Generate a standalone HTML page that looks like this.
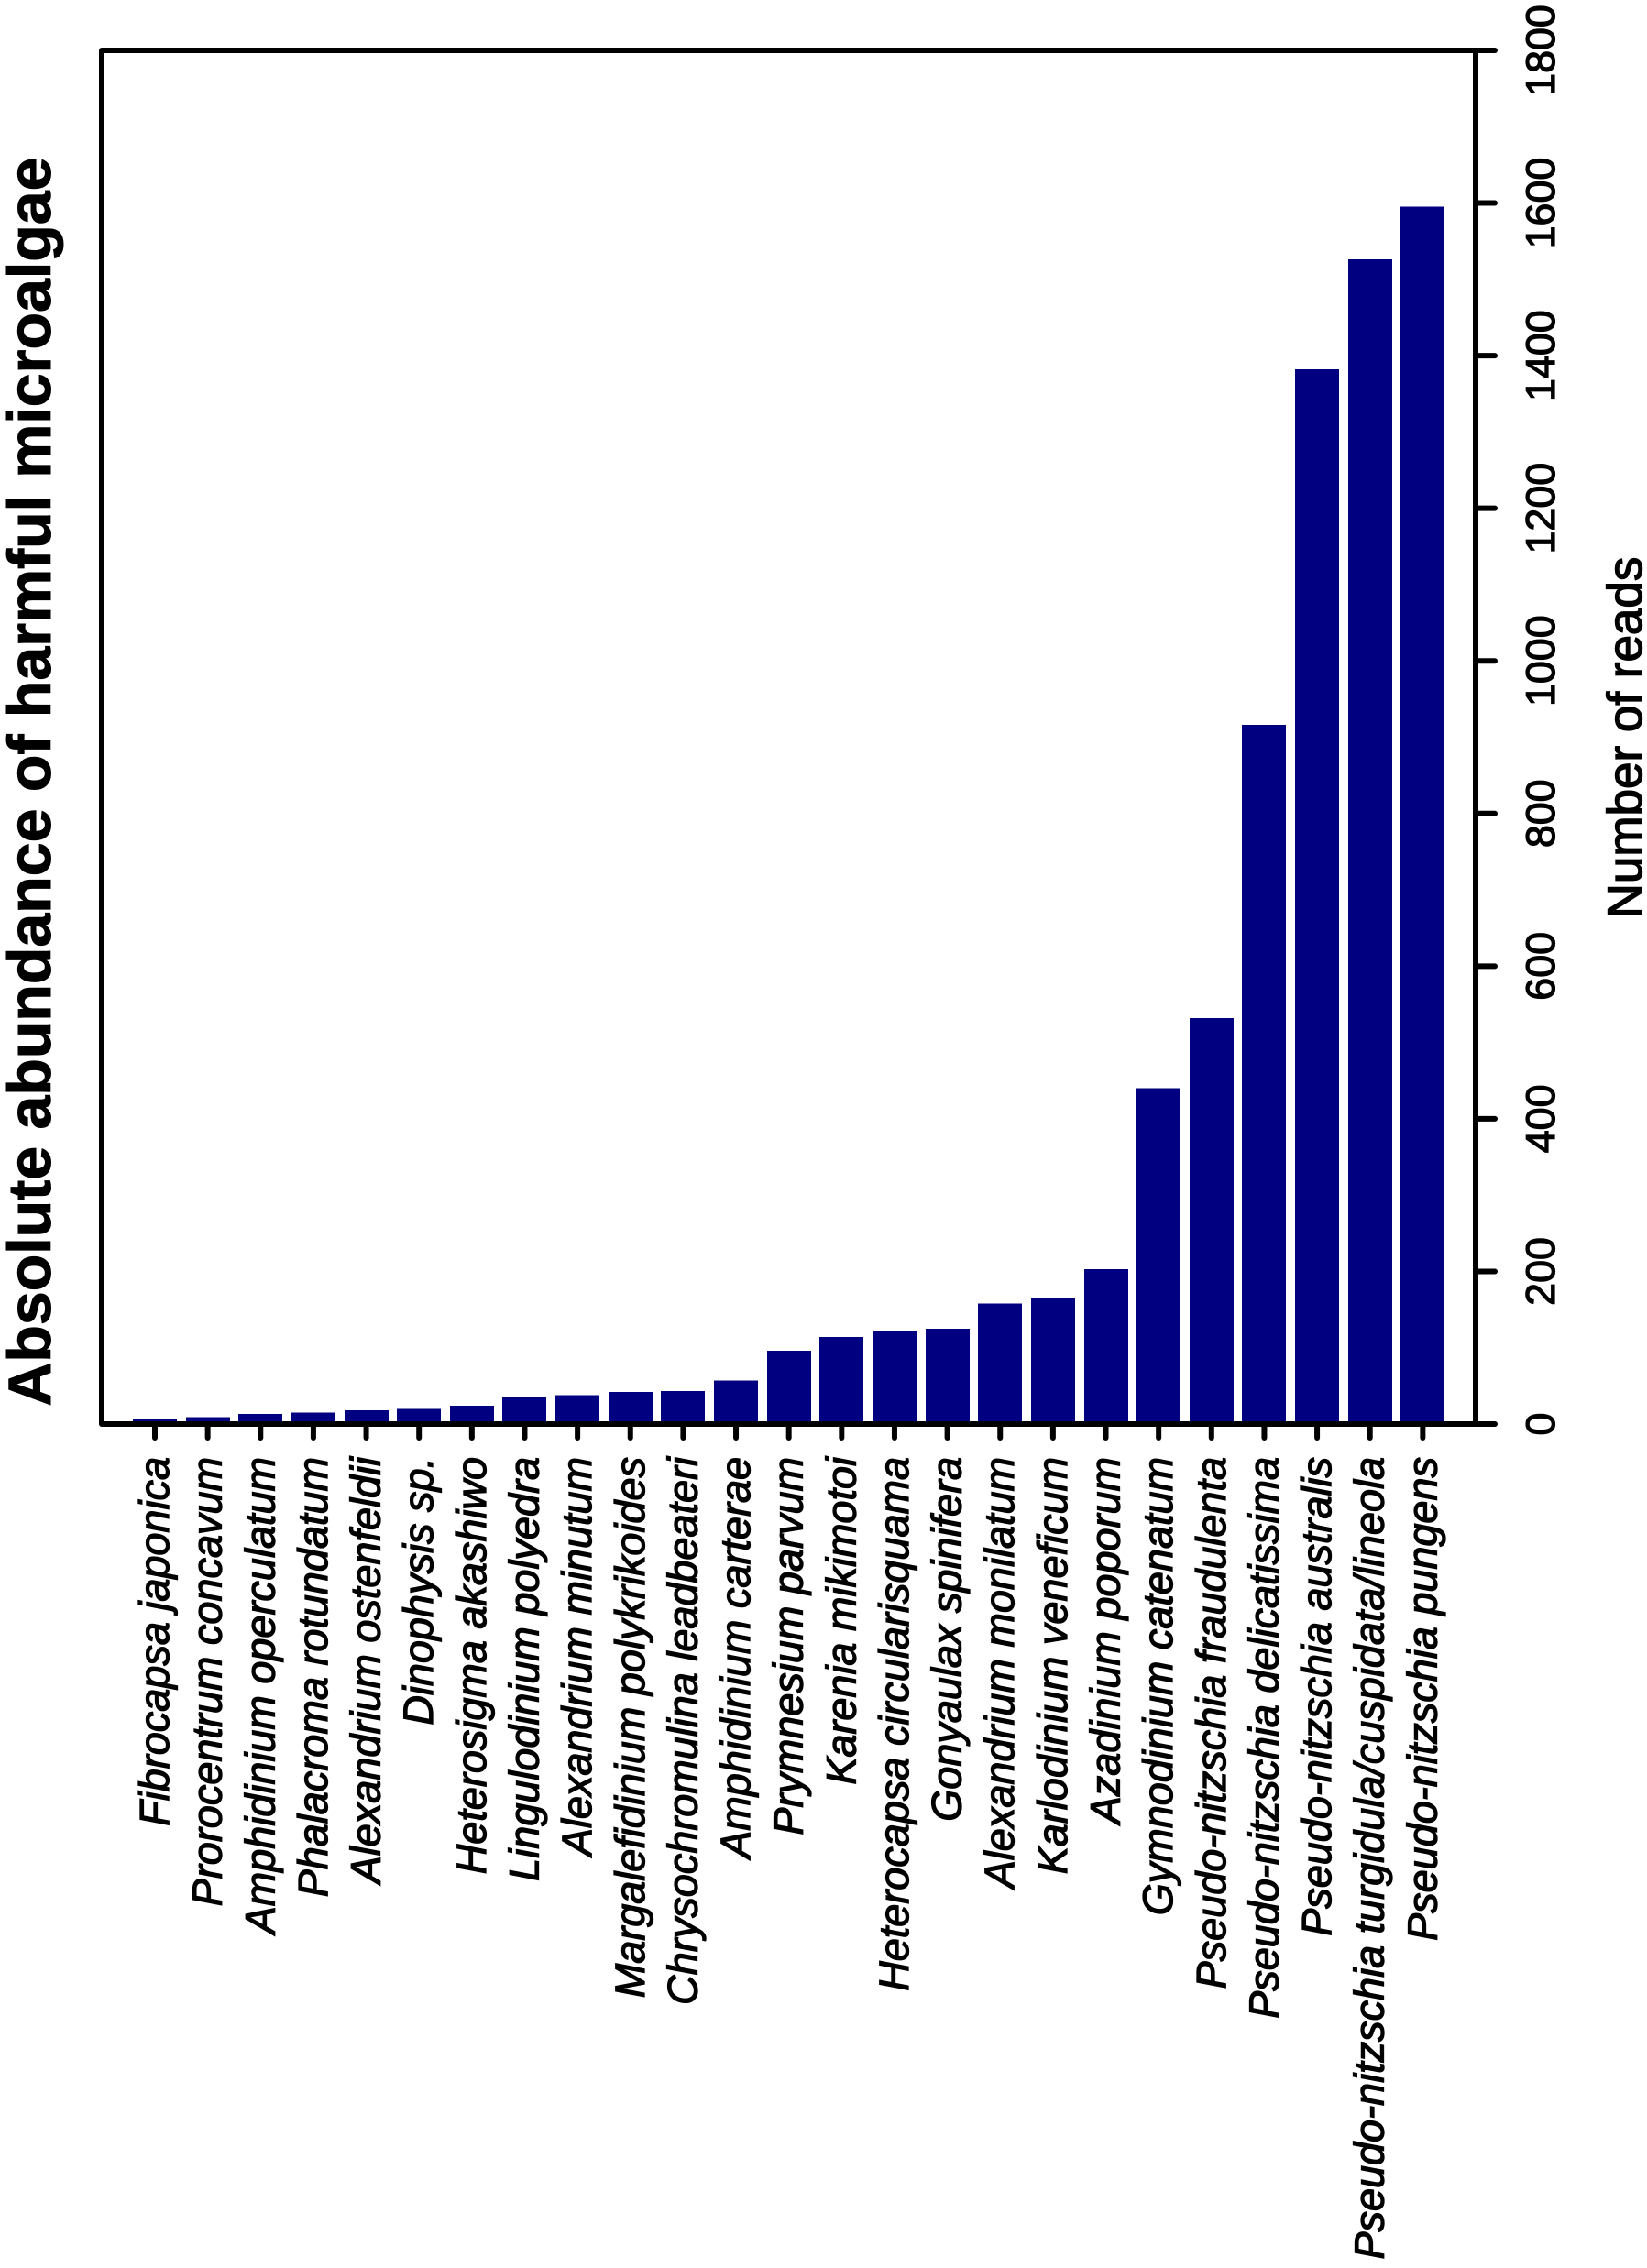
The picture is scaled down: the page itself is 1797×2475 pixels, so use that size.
<!DOCTYPE html>
<html lang="en">
<head>
<meta charset="utf-8">
<title>Absolute abundance of harmful microalgae</title>
<style>
html,body{margin:0;padding:0;background:#fff;}
svg{display:block;}
text{font-family:"Liberation Sans",Arial,sans-serif;fill:#000;}
.cat{font-style:italic;font-size:45px;stroke:#000;stroke-width:1.3px;}
.tick{font-size:44.8px;stroke:#000;stroke-width:1.2px;}
.axis-line{stroke:#000;stroke-width:6;fill:none;stroke-linecap:round;stroke-linejoin:round;}
</style>
</head>
<body>
<svg id="chart" xmlns="http://www.w3.org/2000/svg" width="1797" height="2475" viewBox="0 0 1797 2475">
  <rect x="0" y="0" width="1797" height="2475" fill="#fff"/>
  <g id="bars"></g>
  <path class="axis-line" d="M1610 55 H111 V1554 H1610 V55"/>
  <g id="x-axis"></g>
  <g id="y-axis"></g>
  <text transform="translate(55 853) rotate(-90)" text-anchor="middle" font-size="66.3" font-weight="bold" stroke="#000" stroke-width="1">Absolute abundance of harmful microalgae</text>
  <text transform="translate(1791 805) rotate(-90)" text-anchor="middle" font-size="53" stroke="#000" stroke-width="1.4">Number of reads</text>
</svg>
<script>
const categories = [
  "Fibrocapsa japonica","Prorocentrum concavum","Amphidinium operculatum","Phalacroma rotundatum",
  "Alexandrium ostenfeldii","Dinophysis sp.","Heterosigma akashiwo","Lingulodinium polyedra",
  "Alexandrium minutum","Margalefidinium polykrikoides","Chrysochromulina leadbeateri","Amphidinium carterae",
  "Prymnesium parvum","Karenia mikimotoi","Heterocapsa circularisquama","Gonyaulax spinifera",
  "Alexandrium monilatum","Karlodinium veneficum","Azadinium poporum","Gymnodinium catenatum",
  "Pseudo-nitzschia fraudulenta","Pseudo-nitzschia delicatissima","Pseudo-nitzschia australis",
  "Pseudo-nitzschia turgidula/cuspidata/lineola","Pseudo-nitzschia pungens"
];
const readCounts = [6,9,13,15,18,20,24,35,38,42,43,57,96,114,122,125,158,165,203,440,532,916,1382,1526,1595];
const yTickValues = [0,200,400,600,800,1000,1200,1400,1600,1800];

const NS = "http://www.w3.org/2000/svg";
const yScale = v => 1554 - v * (1499 / 1800);
const xBandStart = i => 145 + i * 57.64;
const barWidth = 48;
const xCenter = i => xBandStart(i) + barWidth / 2;

const barsG = document.getElementById("bars");
const xG = document.getElementById("x-axis");
const yG = document.getElementById("y-axis");

categories.forEach((name, i) => {
  const r = document.createElementNS(NS, "rect");
  r.setAttribute("x", Math.round(xBandStart(i)));
  r.setAttribute("y", yScale(readCounts[i]));
  r.setAttribute("width", barWidth);
  r.setAttribute("height", yScale(0) - yScale(readCounts[i]));
  r.setAttribute("fill", "#000080");
  r.setAttribute("shape-rendering", "crispEdges");
  
  
  barsG.appendChild(r);

  const cx = xCenter(i);
  const t = document.createElementNS(NS, "line");
  t.setAttribute("x1", cx);
  t.setAttribute("x2", cx);
  t.setAttribute("y1", 1554);
  t.setAttribute("y2", 1569);
  t.setAttribute("class", "axis-line");
  
  
  xG.appendChild(t);

  const l = document.createElementNS(NS, "text");
  l.setAttribute("class", "cat");
  l.setAttribute("text-anchor", "end");
  l.setAttribute("transform", "translate(" + (cx + 15) + " 1590) rotate(-90)");
  l.textContent = name;
  
  
  xG.appendChild(l);
});

yTickValues.forEach(v => {
  const y = yScale(v);
  const t = document.createElementNS(NS, "line");
  t.setAttribute("x1", 1610);
  t.setAttribute("x2", 1631);
  t.setAttribute("y1", y);
  t.setAttribute("y2", y);
  t.setAttribute("class", "axis-line");
  
  
  yG.appendChild(t);

  const l = document.createElementNS(NS, "text");
  l.setAttribute("class", "tick");
  l.setAttribute("text-anchor", "middle");
  l.setAttribute("transform", "translate(1696 " + y + ") rotate(-90)");
  l.textContent = String(v);
  
  
  yG.appendChild(l);
});
</script>
</body>
</html>
